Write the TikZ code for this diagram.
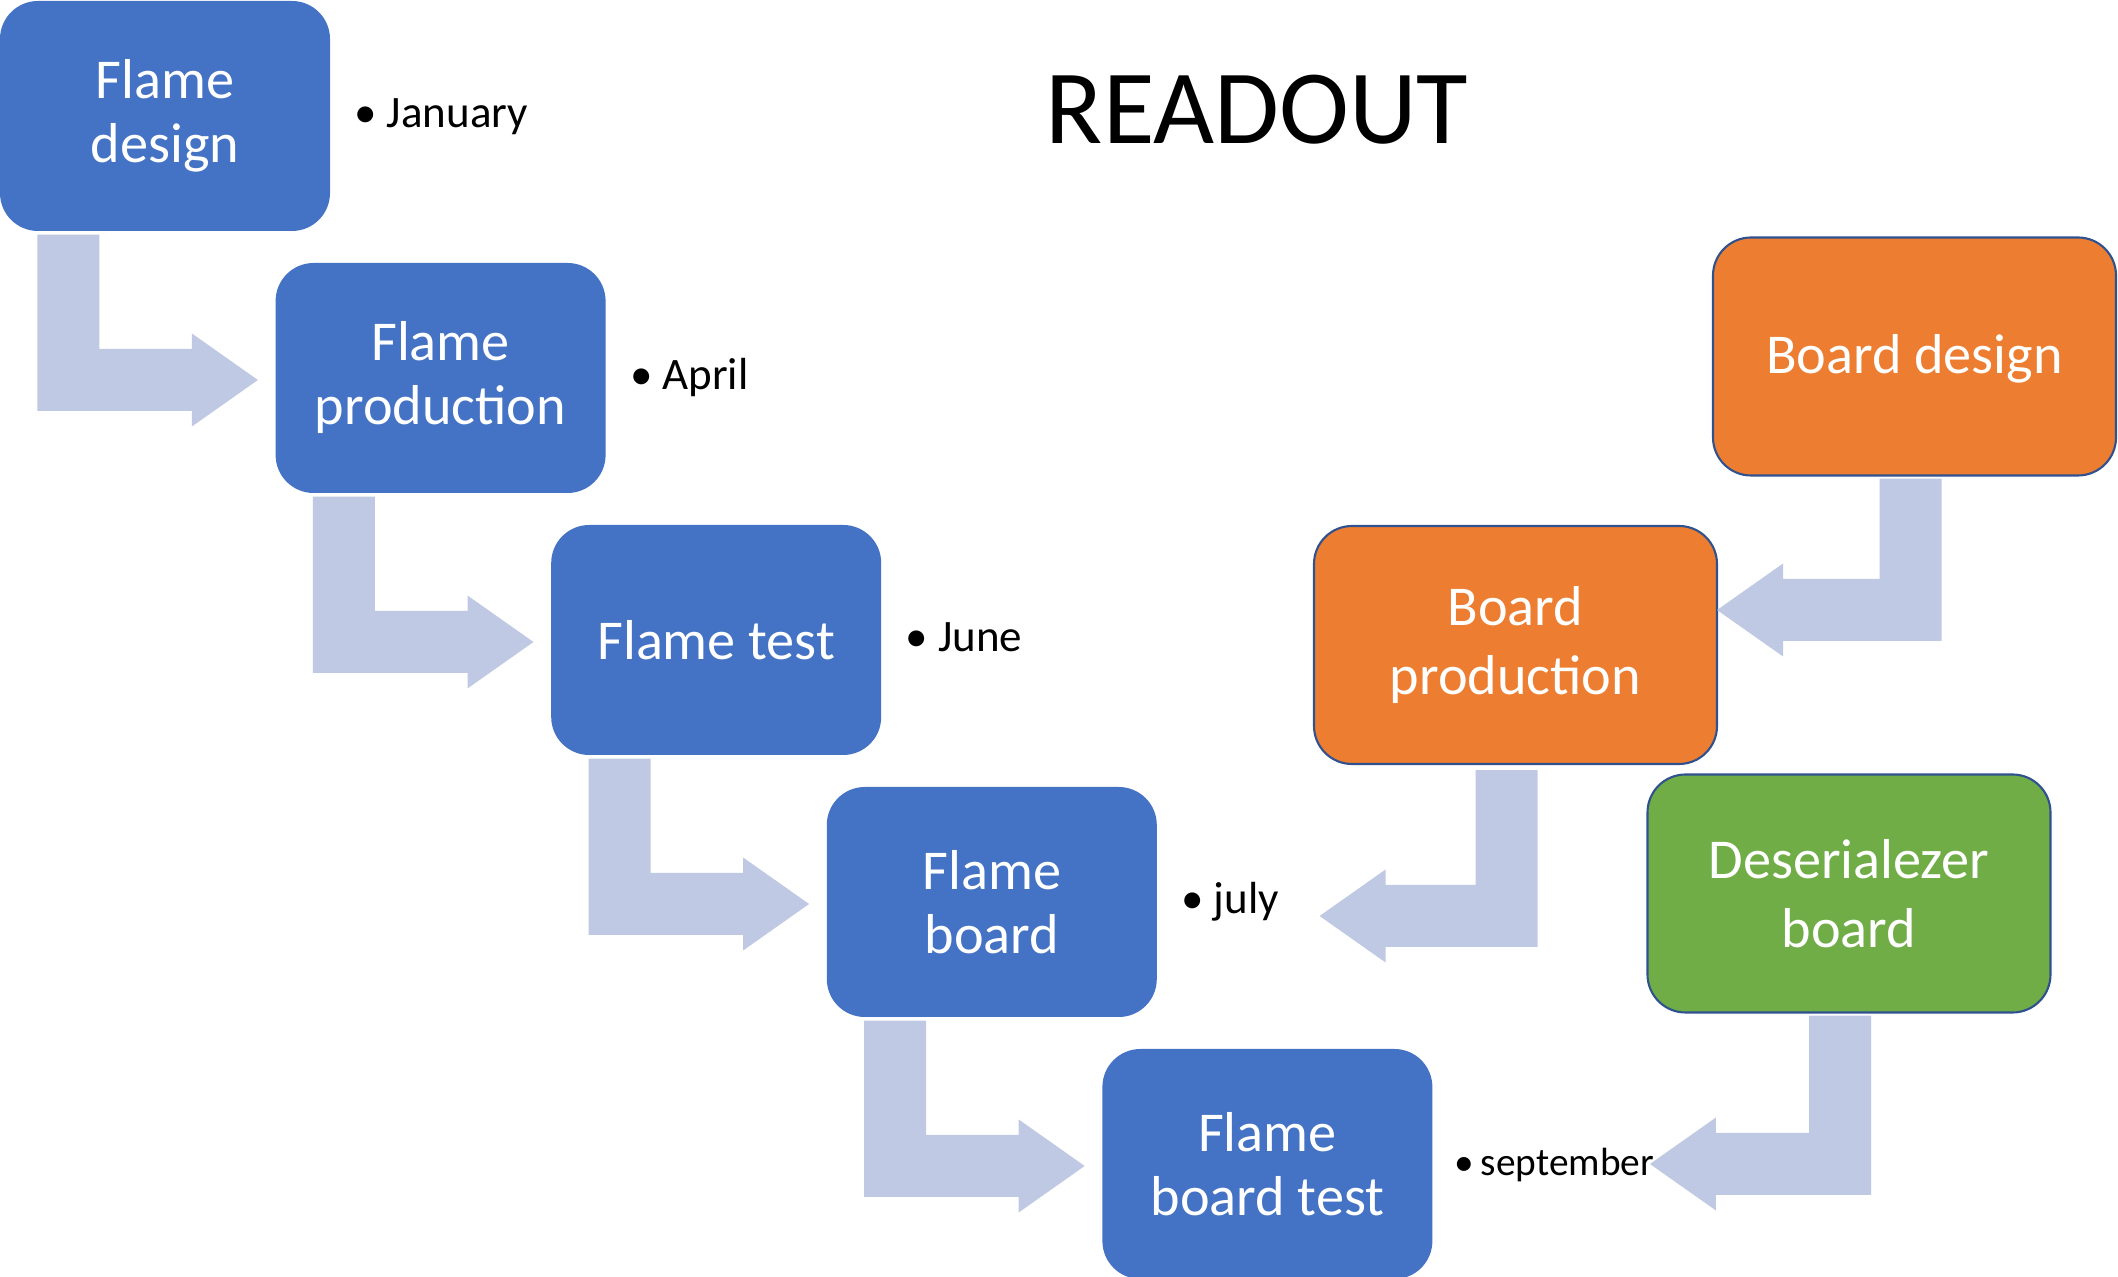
\documentclass[tikz,border=0pt]{standalone}
\usepackage{fontspec}
\setmainfont{Carlito}
\usepackage{tikz}
\usetikzlibrary{calc,positioning}
\definecolor{boxblue}{RGB}{68,114,196}
\definecolor{boxorange}{RGB}{237,125,49}
\definecolor{boxgreen}{RGB}{112,173,71}
\definecolor{boxline}{RGB}{47,82,143}
\definecolor{flowblue}{RGB}{191,201,228}
\newcommand{\bentarrow}[3]{%
\coordinate (s) at (#1);
\coordinate (t) at (#2);
\coordinate (h) at ($(t)+({-0.66*(#3)},0)$);
\fill[flow]($(s)+({0.31*(#3)},0)$)--($(s|-t)+({0.31*(#3)},0.31)$)--($(h)+(0,0.31)$)--($(h)+(0,0.465)$)--(t)
--($(h)+(0,-0.465)$)--($(h)+(0,-0.31)$)--($(s|-t)+({-0.31*(#3)},-0.31)$)--($(s)+({-0.31*(#3)},0)$)--cycle;}
\tikzset{
stage/.style={rounded corners=0.38cm,minimum width=3.30cm,minimum height=2.30cm,inner sep=0pt,
text=white,align=center,font=\fontsize{16}{18.2}\selectfont},
flame/.style={stage,fill=boxblue},
board/.style={stage,draw=boxline,line width=0.6pt,minimum width=4.03cm,minimum height=2.38cm,
font=\fontsize{16}{19.8}\selectfont},
month/.style={inner sep=0pt,font=\fontsize{12.8}{15}\selectfont,text height=0.29cm,text depth=0.05cm},
flow/.style={fill=flowblue}}

\begin{document}
\begin{tikzpicture}
\useasboundingbox (0,0) rectangle (21.18,-12.77);
\node[font=\fontsize{30}{36}\selectfont,anchor=base] (title) at (12.57,-1.44) {READOUT};
\node[flame] (fd) at (1.65,-1.16) {Flame\\design};
\node[flame] (fp) at (4.406,-3.78) {Flame\\production};
\node[flame] (ft) at (7.162,-6.40) {Flame test};
\node[flame] (fb) at (9.918,-9.02) {Flame\\board};
\node[flame] (fbt) at (12.674,-11.64) {Flame\\board test};
\node[board,fill=boxorange,text depth=0.06cm] (bd) at (19.145,-3.565) {Board design};
\node[board,fill=boxorange] (bp) at (15.155,-6.45) {Board\\production};
\node[board,fill=boxgreen] (db) at (18.49,-8.935) {Deserialezer\\board};
\node[month,right=2.3mm of fd] (jan) {\textbullet\ January};
\node[month,right=2.3mm of fp] (apr) {\textbullet\ April};
\node[month,right=2.3mm of ft] (jun) {\textbullet\ June};
\node[month,right=2.3mm of fb] (jul) {\textbullet\ july};
\node[month,right=2.1mm of fbt,font=\fontsize{11.2}{13}\selectfont] (sep) {\textbullet\,september};
\foreach \a/\b in {fd/fp,fp/ft,ft/fb,fb/fbt}
{\bentarrow{$(\a.south west)+(0.69,-0.03)$}{$(\b.west)+(-0.17,-0.02)$}{1}}
\bentarrow{$(bd.south)+(-0.04,-0.02)$}{$(bp.east)+(-0.01,0.35)$}{-1}
\bentarrow{$(bp.south)+(-0.09,-0.05)$}{$(jul.east)+(0.40,-0.14)$}{-1}
\bentarrow{$(db.south)+(-0.09,-0.02)$}{$(sep.east)+(-0.05,0)$}{-1}
\end{tikzpicture}
\end{document}
